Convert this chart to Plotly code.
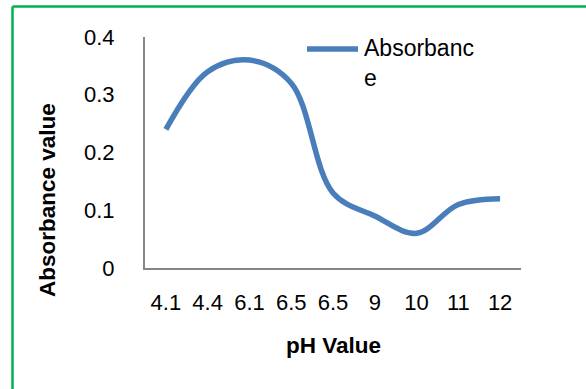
import plotly.graph_objects as go

# pH readings (two separate samples at pH 6.5) and measured absorbance
ph_labels = ["4.1", "4.4", "6.1", "6.5", "6.5", "9", "10", "11", "12"]
absorbance = [0.24, 0.34, 0.36, 0.32, 0.13, 0.09, 0.06, 0.11, 0.12]
y_ticks = [0, 0.1, 0.2, 0.3, 0.4]
y_tick_text = ["0", "0.1", "0.2", "0.3", "0.4"]
series_name = "Absorbanc<br>e"

positions = list(range(len(ph_labels)))

W, H = 586, 389
L, R, T, B = 145, 521, 37, 268  # plot area in pixels
pw, ph = R - L, B - T

def px(x):
    return (x - L) / pw

def py(y):
    return (B - y) / ph

LINE_COLOR = "#4A7EBB"
AXIS_COLOR = "#868686"
FONT = "Liberation Sans, Arial, sans-serif"

fig = go.Figure()
fig.add_trace(go.Scatter(
    x=positions, y=absorbance, mode="lines",
    line=dict(color=LINE_COLOR, width=5.5, shape="spline", smoothing=1),
    name=series_name, showlegend=False, hoverinfo="skip",
))

fig.update_layout(
    width=W, height=H,
    margin=dict(l=L, r=W - R, t=T, b=H - B),
    paper_bgcolor="white", plot_bgcolor="white",
    font=dict(family=FONT, size=22, color="black"),
    xaxis=dict(
        range=[-0.5, len(ph_labels) - 0.5], tickmode="array",
        tickvals=positions, ticktext=ph_labels,
        showgrid=False, zeroline=False, showline=True,
        linecolor=AXIS_COLOR, linewidth=2, ticks="",
        ticklabelstandoff=14, fixedrange=True,
    ),
    yaxis=dict(
        range=[0, 0.4], tickmode="array", tickvals=y_ticks, ticktext=y_tick_text,
        showgrid=False, zeroline=False, showline=True,
        linecolor=AXIS_COLOR, linewidth=2, ticks="",
        ticklabelstandoff=24, fixedrange=True,
    ),
    shapes=[
        # outer green frame (top and left edges)
        dict(type="line", xref="paper", yref="paper",
             x0=px(12.5), x1=px(W + 5), y0=py(6.5), y1=py(6.5),
             line=dict(color="#00B050", width=2.5)),
        dict(type="line", xref="paper", yref="paper",
             x0=px(12.5), x1=px(12.5), y0=py(6.5), y1=py(H + 5),
             line=dict(color="#00B050", width=2.5)),
        # legend key
        dict(type="line", xref="paper", yref="paper",
             x0=px(307), x1=px(358), y0=py(49), y1=py(49),
             line=dict(color=LINE_COLOR, width=5.5)),
    ],
    annotations=[
        dict(text=series_name, xref="paper", yref="paper",
             x=px(362), y=py(33), xanchor="left", yanchor="top",
             align="left", showarrow=False, font=dict(size=23)),
        dict(text="<b>pH Value</b>", xref="paper", yref="paper",
             x=px(333), y=py(345), xanchor="center", yanchor="middle",
             showarrow=False, font=dict(size=22.5)),
        dict(text="<b>Absorbance value</b>", xref="paper", yref="paper",
             x=px(47), y=py(200), xanchor="center", yanchor="middle",
             textangle=-90, showarrow=False, font=dict(size=22.5)),
    ],
)

fig.write_html("out.html")
